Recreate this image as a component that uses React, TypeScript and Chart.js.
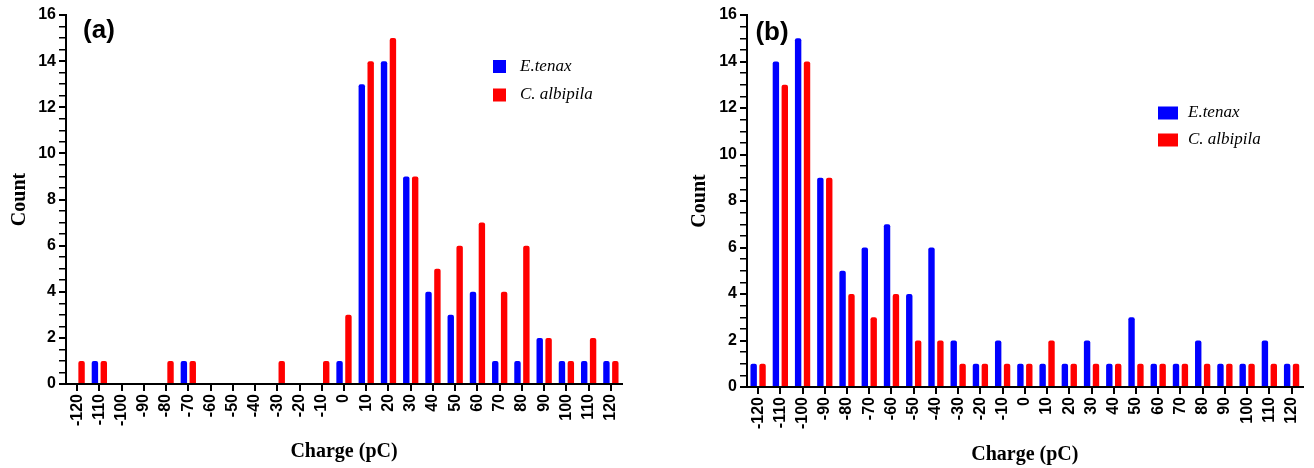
import React, { useEffect, useRef } from "react";
import { Chart, registerables } from "chart.js";

Chart.register(...registerables);

const categories = ["-120","-110","-100","-90","-80","-70","-60","-50","-40","-30","-20","-10","0","10","20","30","40","50","60","70","80","90","100","110","120"];
const seriesNames = ["E.tenax", "C. albipila"];
const seriesColors = ["#0000FF", "#FF0000"];

const aTenax = [0,1,0,0,0,1,0,0,0,0,0,0,1,13,14,9,4,3,4,1,1,2,1,1,1];
const aAlbipila = [1,1,0,0,1,1,0,0,0,1,0,1,3,14,15,9,5,6,7,4,6,2,1,2,1];
const bTenax = [1,14,15,9,5,6,7,4,6,2,1,2,1,1,1,2,1,3,1,1,2,1,1,2,1];
const bAlbipila = [1,13,14,9,4,3,4,2,2,1,1,1,1,2,1,1,1,1,1,1,1,1,1,1,1];

const yMax = 16;
const yStep = 0.5;
const xTitle = "Charge (pC)";
const yTitle = "Count";

const decorPlugin = {
  id: "panelDecor",
  afterDraw(chart: any, _args: any, opts: any) {
    const ctx = chart.ctx;
    ctx.save();
    ctx.fillStyle = "#000";
    ctx.font = `bold ${opts.labelSize}px "Liberation Sans", Arial, sans-serif`;
    ctx.textAlign = "center";
    ctx.textBaseline = "middle";
    ctx.fillText(opts.label, opts.labelX, opts.labelY);
    chart.data.datasets.forEach((ds: any, i: number) => {
      const y = opts.legendY + i * opts.legendGap;
      ctx.fillStyle = ds.backgroundColor;
      ctx.fillRect(opts.legendX, y - opts.boxH / 2, opts.boxW, opts.boxH);
      ctx.fillStyle = "#000";
      ctx.font = `italic 17px "Liberation Serif", "Times New Roman", serif`;
      ctx.textAlign = "left";
      ctx.textBaseline = "middle";
      ctx.fillText(ds.label, opts.textX, y);
    });
    ctx.restore();
  },
};

function makeConfig(tenax: number[], albipila: number[], p: any) {
  return {
    type: "bar" as const,
    data: {
      labels: categories,
      datasets: [
        { label: seriesNames[0], data: tenax, backgroundColor: seriesColors[0], borderWidth: 0, borderRadius: { topLeft: 2, topRight: 2 }, categoryPercentage: 0.8, barPercentage: 0.72 },
        { label: seriesNames[1], data: albipila, backgroundColor: seriesColors[1], borderWidth: 0, borderRadius: { topLeft: 2, topRight: 2 }, categoryPercentage: 0.8, barPercentage: 0.72 },
      ],
    },
    options: {
      responsive: false,
      animation: false,
      devicePixelRatio: 1,
      layout: { padding: { left: 0, top: 15, right: p.padRight, bottom: 0 } },
      plugins: {
        legend: { display: false },
        tooltip: { enabled: false },
        panelDecor: p.decor,
      },
      scales: {
        x: {
          offset: true,
          grid: { display: true, drawOnChartArea: false, drawTicks: true, tickLength: 7, color: "#000", lineWidth: 2, offset: false },
          border: { display: true, color: "#000", width: 2 },
          ticks: {
            autoSkip: false,
            minRotation: 90,
            maxRotation: 90,
            padding: 3,
            color: "#000",
            font: { family: '"Liberation Sans", Arial, sans-serif', size: 16, weight: "bold" },
          },
          title: {
            display: true,
            text: xTitle,
            color: "#000",
            font: { family: '"Liberation Serif", "Times New Roman", serif', size: 20, weight: "bold" },
            padding: { top: 0, bottom: p.xTitlePad },
          },
          afterFit: (s: any) => { s.height = p.xHeight; },
        },
        y: {
          min: 0,
          max: yMax,
          grid: {
            display: true,
            drawOnChartArea: false,
            drawTicks: true,
            tickLength: 7,
            color: "#000",
            lineWidth: (c: any) => (c.tick && c.tick.value % 2 === 0 ? 2 : 1.5),
          },
          border: { display: true, color: "#000", width: 2 },
          ticks: {
            stepSize: yStep,
            autoSkip: false,
            padding: 3,
            color: "#000",
            font: { family: '"Liberation Sans", Arial, sans-serif', size: 16, weight: "bold" },
            callback: (v: any) => (Number(v) % 2 === 0 ? String(v) : ""),
          },
          title: {
            display: true,
            text: yTitle,
            color: "#000",
            font: { family: '"Liberation Serif", "Times New Roman", serif', size: 20, weight: "bold" },
            padding: { top: p.yTitlePad, bottom: 0 },
          },
          afterFit: (s: any) => { s.width = p.yWidth; },
        },
      },
    },
    plugins: [decorPlugin],
  };
}

function Panel({ tenax, albipila, params, left }: any) {
  const ref = useRef<HTMLCanvasElement>(null);
  useEffect(() => {
    if (!ref.current) return;
    const chart = new Chart(ref.current, makeConfig(tenax, albipila, params) as any);
    return () => chart.destroy();
  }, []);
  return (
    <canvas
      ref={ref}
      width={657}
      height={468}
      style={{ position: "absolute", left, top: 0, width: 657, height: 468 }}
    />
  );
}

const paramsA = {
  padRight: 35,
  xHeight: 84,
  yWidth: 66,
  xTitlePad: 4,
  yTitlePad: 8,
  decor: { label: "(a)", labelSize: 26, labelX: 99, labelY: 31, legendX: 493, boxW: 13, boxH: 13, legendY: 66.5, legendGap: 28.5, textX: 520 },
};
const paramsB = {
  padRight: 11,
  xHeight: 81,
  yWidth: 90,
  xTitlePad: 1,
  yTitlePad: 31,
  decor: { label: "(b)", labelSize: 26, labelX: 115, labelY: 33, legendX: 501, boxW: 20, boxH: 13, legendY: 113, legendGap: 27, textX: 531 },
};

export default function App() {
  return (
    <div style={{ position: "absolute", left: 0, top: 0, width: 1314, height: 468, background: "#fff" }}>
      <Panel tenax={aTenax} albipila={aAlbipila} params={paramsA} left={0} />
      <Panel tenax={bTenax} albipila={bAlbipila} params={paramsB} left={657} />
    </div>
  );
}
